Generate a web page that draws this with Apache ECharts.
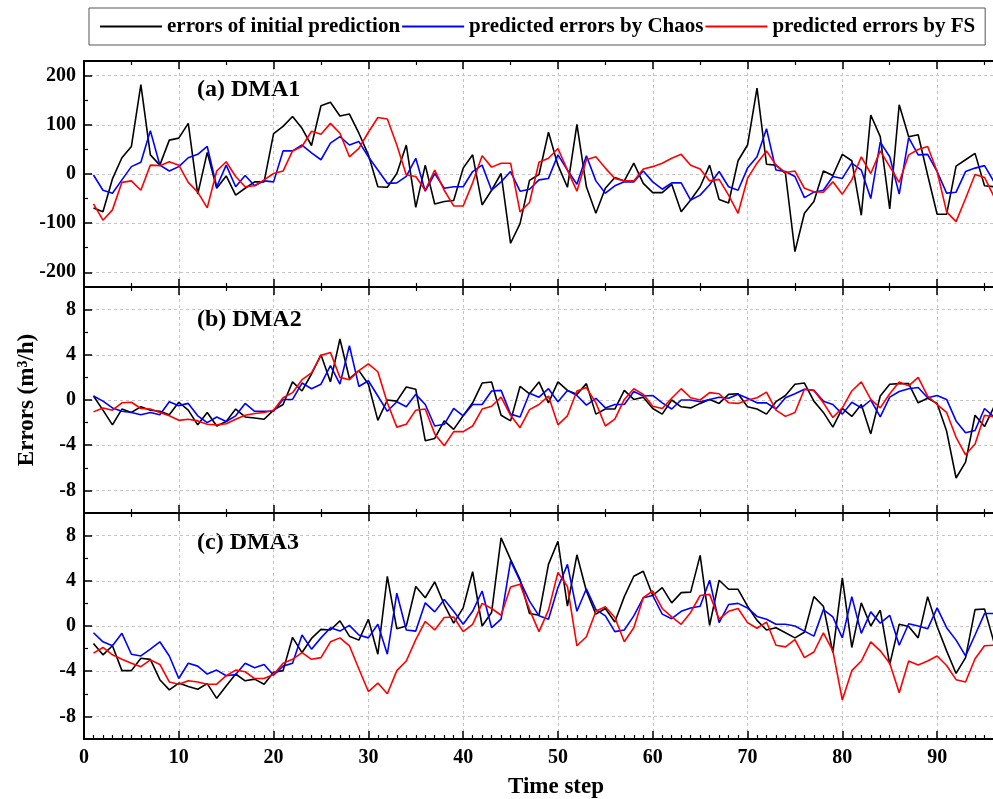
<!DOCTYPE html>
<html>
<head>
<meta charset="utf-8">
<script src="https://cdn.jsdelivr.net/npm/echarts@6/dist/echarts.min.js"></script>
<style>
  html, body { margin: 0; padding: 0; background: #fff; }
  #main { width: 993px; height: 799px; }
</style>
</head>
<body>
<div id="main"></div>
<script>
// time steps 1..96
const steps = [];
for (let i = 1; i <= 96; i++) steps.push(i);

const seriesNames = ['errors of initial prediction', 'predicted errors by Chaos', 'predicted errors by FS'];
const seriesColors = ['#000000', '#0000ff', '#ff0000'];
const panelTitles = ['(a) DMA1', '(b) DMA2', '(c) DMA3'];

// DMA1
const dma1Initial = [-69, -77, -10, 33, 56, 182, 39, 18, 69, 73, 103, -41, 44, -29, -4, -43, -29, -16, -16, 82,
  97, 117, 93, 58, 139, 146, 118, 122, 83, 39, -26, -27, 1, 59, -68, 18, -61, -56, -54, 12,
  39, -63, -33, 1, -141, -101, -13, -1, 85, 18, -27, 101, -26, -80, -29, -7, -14, 22, -19, -38,
  -38, -21, -77, -53, -26, 18, -52, -59, 27, 59, 175, 20, 18, 1, -158, -80, -56, 6, -3, 40,
  27, -84, 120, 76, -71, 141, 76, 80, -2, -82, -82, 16, 29, 42, -24, -26];
const dma1Chaos = [-2, -33, -39, -12, 15, 24, 88, 18, 6, 15, 33, 40, 56, -26, 18, -26, -3, -24, -14, -16,
  47, 47, 59, 43, 29, 63, 76, 59, 66, 35, 8, -19, -18, -5, 32, -35, 1, -29, -26, -26,
  5, 18, -33, -16, 5, -35, -31, -12, -9, 39, 8, -21, 37, -14, -39, -24, -16, -16, 6, -16,
  -31, -18, -18, -53, -43, -22, 5, -26, -33, 12, 35, 92, 8, 5, -5, -48, -37, -33, -5, -9,
  22, 8, -50, 65, 35, -41, 74, 39, 40, 5, -39, -37, 5, 12, 17, -16];
const dma1FS = [-61, -94, -73, -17, -14, -33, 18, 17, 25, 18, -17, -37, -69, 6, 25, -5, -26, -24, -12, 1,
  6, 47, 56, 87, 81, 103, 83, 35, 52, 85, 115, 112, 59, -2, -5, -33, 8, -33, -65, -65,
  -18, 37, 14, 22, 22, -77, -58, 24, 32, 52, 8, -35, 29, 35, 12, -9, -14, -14, 10, 15,
  22, 32, 40, 18, 10, -14, -11, -43, -80, -9, 22, 47, 18, 3, 6, -29, -36, -37, -16, -41,
  -12, 35, 1, 47, 15, -17, 39, 50, 56, 5, -77, -97, -50, -1, -7, -46];

// DMA2
const dma2Initial = [0.35, -0.9, -2.2, -0.8, -1.1, -0.6, -0.9, -1.0, -1.3, -0.2, -0.9, -2.2, -1.1, -2.3, -1.9, -0.8, -1.5, -1.6, -1.7, -0.9,
  -0.4, 1.6, 0.8, 2.3, 4.0, 1.6, 5.4, 1.9, 2.6, 1.4, -1.8, 0.0, -0.1, 1.15, 0.95, -3.6, -3.4, -1.85, -2.6, -1.4,
  -0.25, 1.5, 1.6, -1.35, -1.85, 1.2, 0.55, 1.6, -0.25, 1.6, 0.85, 0.5, 1.45, -1.25, -0.8, -0.8, 0.85, 0.05, 0.25, -0.75,
  -1.25, 0, -0.6, -0.7, -0.3, 0.05, -0.3, 0.5, 0.55, -0.6, -0.8, -1.25, -0.15, 0.4, 1.4, 1.5, -0.1, -1.1, -2.4, -0.75,
  -1.45, -0.4, -3.0, 0.35, 1.4, 1.45, 1.45, -0.25, 0.15, -0.3, -2.75, -6.9, -5.5, -1.35, -2.35, -0.6];
const dma2Chaos = [0.35, -0.1, -0.7, -1.0, -1.1, -1.3, -1.1, -1.3, -0.15, -0.5, -0.3, -1.4, -2.0, -1.5, -1.9, -1.4, -0.3, -1.0, -1.0, -1.0,
  0.05, 0.05, 1.5, 1.0, 1.4, 3.05, 1.4, 4.8, 1.2, 1.7, 0.35, -1.0, -0.15, -0.6, 0.5, -0.4, -2.3, -2.15, -0.75, -1.4,
  -0.4, -0.4, 0.8, 0.85, -1.25, -1.5, 0.6, 0.25, 1.0, -0.15, 0.85, 0.4, -0.45, 0.15, -0.7, -0.4, -0.4, 0.75, 0.35, 0.4,
  -0.25, -0.8, 0, 0, -0.15, 0.05, 0.25, 0.15, 0.5, 0.15, -0.25, -0.25, -0.8, 0.2, 0.55, 0.95, 0.85, -0.1, -0.4, -1.25,
  -0.2, -0.7, 0, -1.5, 0.25, 0.75, 1.0, 1.1, 0.2, 0.4, 0.05, -1.85, -2.9, -2.7, -0.75, -1.5];
const dma2FS = [-1.05, -0.7, -0.9, -0.25, -0.2, -0.75, -0.8, -1.1, -1.4, -1.8, -1.7, -1.85, -2.15, -2.2, -2.1, -1.7, -1.35, -1.2, -1.1, -0.9,
  0.2, 0.65, 1.8, 2.4, 3.95, 4.2, 2.0, 1.8, 2.6, 3.2, 2.5, -0.25, -2.4, -2.15, -0.9, -0.8, -3.0, -4.05, -2.8, -2.8,
  -2.3, -0.8, -0.55, 0.25, -1.35, -2.45, -0.85, -0.4, 0.35, -2.2, -1.4, 0.8, 1.1, -0.25, -2.3, -1.7, 0.05, 1.0, 0.5, -0.55,
  -0.75, 0.15, 1.0, 0.2, 0, 0.65, 0.55, -0.25, -0.3, 0, 0.2, 0.7, -0.9, -1.45, -1.1, 0.95, 0.85, -0.25, -1.55, -0.7,
  0.8, 1.6, 0.05, -0.7, 0.55, 1.6, 1.25, 2.0, 0.35, -0.4, -1.1, -3.3, -4.85, -3.9, -1.35, -1.5];

// DMA3
const dma3Initial = [-1.55, -2.55, -1.75, -3.95, -3.95, -2.85, -2.95, -4.75, -5.65, -5.05, -5.35, -5.6, -5.1, -6.4, -5.3, -4.25, -4.85, -4.7, -5.15, -4.1,
  -3.95, -1.0, -2.35, -1.1, -0.3, -0.35, 0.45, -0.9, -1.25, 0.6, -2.5, 4.4, -0.25, 0, 3.5, 2.5, 3.9, 1.9, 0.25, 1.6,
  4.8, 0, 1.2, 7.8, 5.9, 4.1, 1.1, 0.95, 5.45, 7.5, 1.75, 6.3, 3.1, 1.05, 1.55, 0.35, 2.6, 4.4, 4.85, 2.7,
  3.4, 2.05, 2.95, 3.0, 6.25, 0.05, 4.05, 3.25, 3.25, 1.75, 0.5, -0.35, -0.15, -0.6, -1.05, -0.55, 2.6, 1.75, -2.35, 4.25,
  -1.9, 2.05, 0, 1.4, -3.4, 0.15, -0.05, -1.05, 2.6, -0.05, -2.2, -4.2, -2.8, 1.45, 1.5, -1.45];
const dma3Chaos = [-0.6, -1.4, -1.75, -0.65, -2.5, -2.65, -2.05, -1.4, -2.65, -4.65, -3.3, -3.55, -4.25, -3.9, -4.4, -4.3, -3.3, -3.7, -3.4, -4.35,
  -3.55, -3.3, -0.8, -2.05, -1.05, -0.15, -0.45, 0.05, -0.8, -1.05, 0.15, -2.5, 2.9, -0.35, -0.45, 2.05, 1.25, 2.35, 1.3, 0.15,
  1.3, 3.1, -0.15, 0.6, 5.75, 4.0, 2.2, 0.9, 0.6, 3.4, 5.45, 1.3, 3.3, 1.45, 0.9, -0.5, -0.35, 0.9, 2.5, 2.7,
  1.05, 0.65, 1.3, 1.6, 1.75, 4.05, 0.3, 1.9, 2.0, 1.6, 0.85, 0.6, 0.15, 0.15, 0, -0.45, -0.9, 1.45, 0.8, -1.05,
  2.6, -0.65, 1.25, 0.25, 0.95, -1.7, 0.2, 0, -0.25, 1.6, -0.15, -1.25, -2.65, -0.8, 1.1, 1.1];
const dma3FS = [-2.4, -1.9, -2.55, -2.95, -3.3, -3.6, -3.0, -3.4, -4.95, -5.15, -4.85, -4.95, -5.15, -5.15, -4.4, -3.9, -4.05, -4.65, -4.65, -4.3,
  -3.3, -2.95, -2.35, -2.95, -2.8, -1.4, -1.05, -1.75, -3.8, -5.8, -5.05, -6.0, -3.95, -3.1, -1.2, 0.4, -0.35, 0.75, 0.8, -0.5,
  0.15, 2.0, 1.55, 0.95, 3.45, 3.7, 1.45, -0.5, 1.4, 4.75, 3.5, -1.75, -0.95, 1.3, 1.7, 0.75, -1.4, -0.15, 2.5, 3.1,
  1.55, 0.8, 0.15, 1.2, 2.7, 2.8, 0.6, 1.3, 1.55, 0.3, -0.2, 0.35, -1.7, -1.85, -1.2, -2.8, -2.3, -0.6, -2.2, -6.55,
  -3.95, -3.1, -1.4, -2.2, -3.3, -5.9, -3.1, -3.45, -3.1, -2.65, -3.5, -4.75, -4.95, -2.9, -1.75, -1.7];

const panelData = [
  [dma1Initial, dma1Chaos, dma1FS],
  [dma2Initial, dma2Chaos, dma2FS],
  [dma3Initial, dma3Chaos, dma3FS]
];

// y axis ranges and tick values
const yRanges = [[-230, 230], [-10, 10], [-10, 10]];
const yMajorTicks = [[-200, -100, 0, 100, 200], [-8, -4, 0, 4, 8], [-8, -4, 0, 4, 8]];
const yMinorTicks = [[-150, -50, 50, 150], [-6, -2, 2, 6], [-6, -2, 2, 6]];

const FONT = "'Liberation Serif', 'DejaVu Serif', serif";
const panelTops = [61, 287, 513];
const panelHeight = 226;

const grids = [];
const xAxes = [];
const yAxes = [];
const series = [];

const axisLineStyle = { color: '#000', width: 2 };
const gridLineStyle = { color: '#c4c4c4', width: 1, type: [3, 3] };

panelTops.forEach((top, i) => {
  grids.push({ left: 84, top: top, width: 910, height: panelHeight, containLabel: false, outerBoundsMode: 'none' });

  // bottom x axis
  xAxes.push({
    type: 'value', gridIndex: i, position: 'bottom', min: 0, max: 96, interval: 10,
    axisLine: { show: true, onZero: false, lineStyle: axisLineStyle },
    axisTick: { show: true, inside: true, length: 8, lineStyle: { color: '#000', width: 1.5 } },
    minorTick: { show: true, splitNumber: i === 2 ? 10 : 2, length: 4, lineStyle: { color: '#000', width: 1.2 } },
    axisLabel: {
      show: i === 2, margin: 9, showMaxLabel: false, color: '#000',
      fontFamily: FONT, fontWeight: 'bold', fontSize: 20
    },
    splitLine: { show: true, lineStyle: gridLineStyle }
  });
  // top x axis (frame only)
  xAxes.push({
    type: 'value', gridIndex: i, position: 'top', min: 0, max: 96, interval: 10,
    axisLine: { show: true, onZero: false, lineStyle: axisLineStyle },
    axisTick: { show: true, inside: true, length: 8, lineStyle: { color: '#000', width: 1.5 } },
    minorTick: { show: true, splitNumber: 2, length: 4, lineStyle: { color: '#000', width: 1.2 } },
    axisLabel: { show: false },
    splitLine: { show: false }
  });

  // left y axis, major ticks + labels
  yAxes.push({
    type: 'value', gridIndex: i, position: 'left', min: yRanges[i][0], max: yRanges[i][1],
    axisLine: { show: true, onZero: false, lineStyle: axisLineStyle },
    axisTick: { show: true, inside: true, length: 8, customValues: yMajorTicks[i], lineStyle: { color: '#000', width: 1.5 } },
    axisLabel: {
      show: true, customValues: yMajorTicks[i], margin: 8, color: '#000',
      fontFamily: FONT, fontWeight: 'bold', fontSize: 20
    },
    splitLine: { show: true, lineStyle: gridLineStyle }
  });
  // left y axis, minor ticks only
  yAxes.push({
    type: 'value', gridIndex: i, position: 'left', min: yRanges[i][0], max: yRanges[i][1],
    axisLine: { show: false },
    axisTick: { show: true, inside: true, length: 4, customValues: yMinorTicks[i], lineStyle: { color: '#000', width: 1.2 } },
    axisLabel: { show: false },
    splitLine: { show: false }
  });

  panelData[i].forEach((vals, k) => {
    series.push({
      name: seriesNames[k],
      type: 'line',
      xAxisIndex: i * 2,
      yAxisIndex: i * 2,
      data: steps.map((t, j) => [t, vals[j]]),
      showSymbol: false,
      symbol: 'none',
      lineStyle: { color: seriesColors[k], width: 1.6 },
      itemStyle: { color: seriesColors[k] },
      clip: true,
      animation: false
    });
  });
});

const chart = echarts.init(document.getElementById('main'), null, { renderer: 'canvas' });
chart.setOption({
  backgroundColor: '#fff',
  animation: false,
  grid: grids,
  xAxis: xAxes,
  yAxis: yAxes,
  legend: {
    data: seriesNames,
    left: 89,
    top: 8,
    orient: 'horizontal',
    icon: 'rect',
    itemWidth: 62,
    itemHeight: 2,
    itemGap: 2,
    padding: [8, 10, 8, 11],
    borderColor: '#555',
    borderWidth: 1,
    textStyle: { fontFamily: FONT, fontWeight: 'bold', fontSize: 21, color: '#000' }
  },
  graphic: [
    ...panelTitles.map((txt, i) => ({
      type: 'text', x: 197, y: [90, 320, 543][i],
      style: { text: txt, fill: '#000', font: "bold 24px " + FONT, textAlign: 'left', textVerticalAlign: 'middle' }
    })),
    {
      type: 'text', x: 27, y: 400, rotation: Math.PI / 2,
      style: { text: 'Errors (m\u00b3/h)', fill: '#000', font: "bold 23px " + FONT, textAlign: 'center', textVerticalAlign: 'middle' }
    },
    {
      type: 'text', x: 556, y: 787,
      style: { text: 'Time step', fill: '#000', font: "bold 23px " + FONT, textAlign: 'center', textVerticalAlign: 'middle' }
    }
  ],
  series: series
});
</script>
</body>
</html>
